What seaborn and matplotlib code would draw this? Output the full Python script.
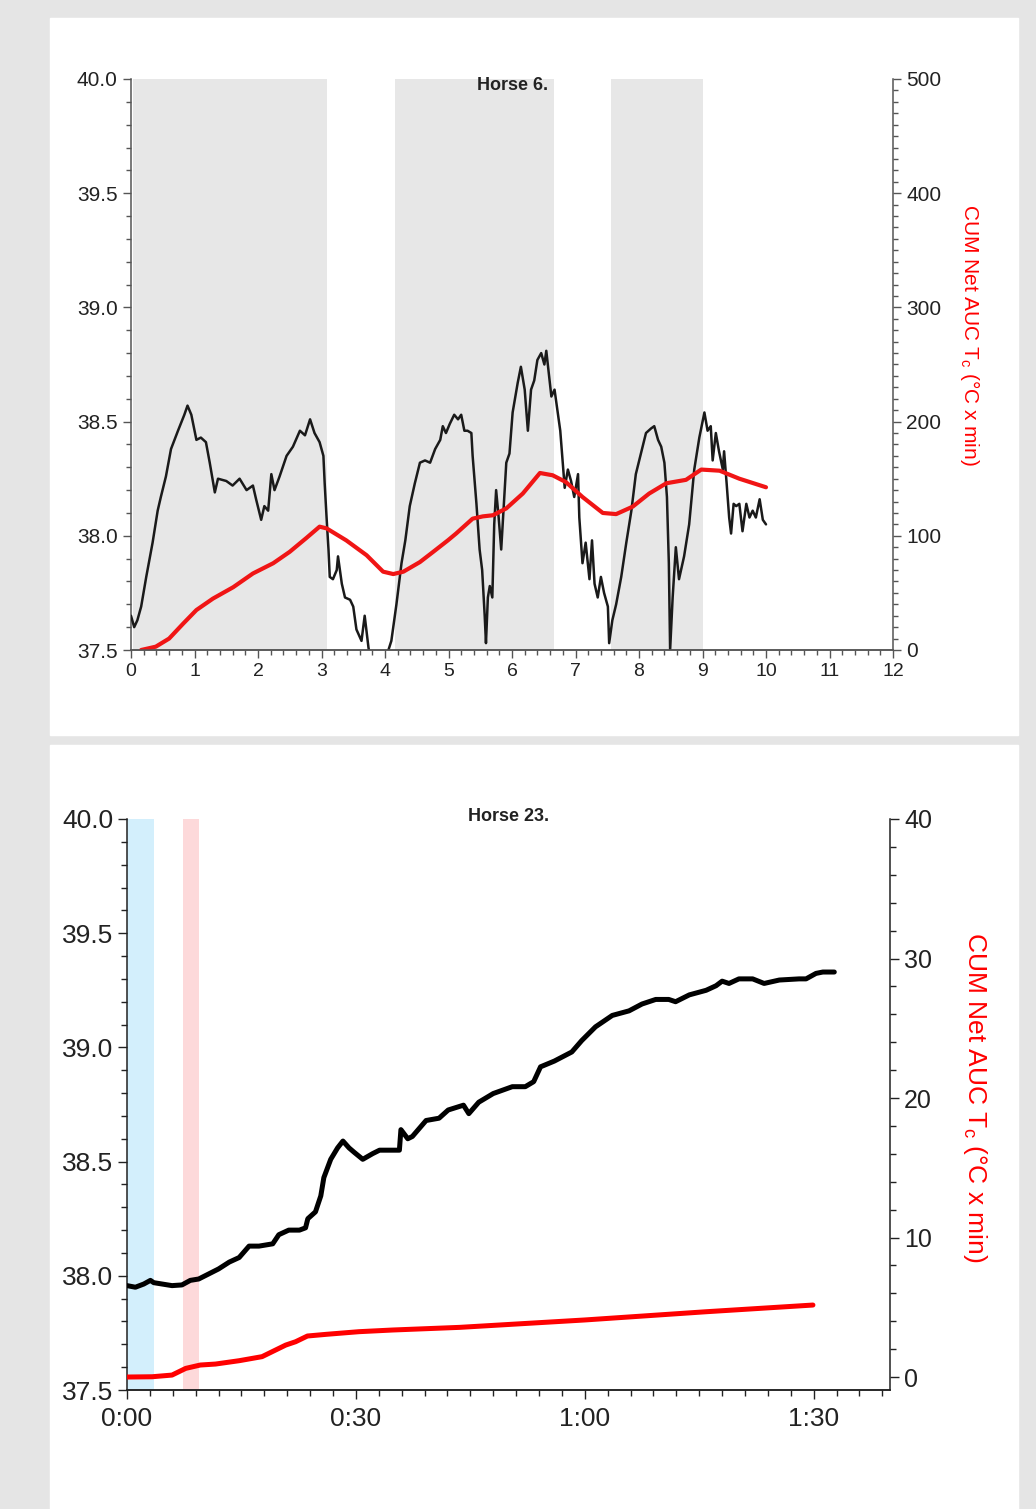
import matplotlib
matplotlib.use("Agg")
import matplotlib.pyplot as plt
import seaborn as sns
from matplotlib.patches import Rectangle
from matplotlib.ticker import MultipleLocator, FuncFormatter

# Horse 6: core temperature (min, degC)
t6 = [0.0, 0.05, 0.1, 0.16, 0.24, 0.34, 0.42, 0.47, 0.55, 0.63, 0.74, 0.84, 0.89, 0.95,
      1.03, 1.1, 1.18, 1.24, 1.32, 1.37, 1.5, 1.6, 1.71, 1.82, 1.92, 1.97, 2.05, 2.1,
      2.16, 2.21, 2.26, 2.34, 2.45, 2.55, 2.66, 2.74, 2.82, 2.89, 2.97, 3.03, 3.05, 3.08,
      3.11, 3.13, 3.18, 3.24, 3.26, 3.32, 3.37, 3.45, 3.5, 3.55, 3.63, 3.68, 3.74, 3.76,
      3.85, 3.95, 4.02, 4.1, 4.18, 4.26, 4.32, 4.39, 4.47, 4.55, 4.63, 4.71, 4.79, 4.87,
      4.91, 4.96, 5.02, 5.09, 5.15, 5.2, 5.25, 5.3, 5.36, 5.38, 5.44, 5.49, 5.53, 5.57,
      5.59, 5.62, 5.65, 5.69, 5.72, 5.75, 5.79, 5.83, 5.86, 5.91, 5.96, 6.01, 6.09, 6.14,
      6.2, 6.25, 6.3, 6.35, 6.4, 6.46, 6.51, 6.54, 6.58, 6.62, 6.67, 6.72, 6.76, 6.8,
      6.83, 6.88, 6.93, 6.98, 7.04, 7.06, 7.11, 7.16, 7.22, 7.26, 7.3, 7.35, 7.4, 7.45,
      7.51, 7.53, 7.58, 7.64, 7.72, 7.8, 7.88, 7.95, 8.03, 8.11, 8.19, 8.24, 8.3, 8.35,
      8.4, 8.44, 8.47, 8.49, 8.53, 8.58, 8.63, 8.71, 8.79, 8.87, 8.95, 9.03, 9.08, 9.13,
      9.16, 9.21, 9.26, 9.32, 9.34, 9.38, 9.42, 9.45, 9.49, 9.53, 9.58, 9.63, 9.69, 9.74,
      9.79, 9.84, 9.9, 9.95, 10.0]
temp6 = [37.65, 37.60, 37.63, 37.69, 37.82, 37.97, 38.11, 38.17, 38.26, 38.38, 38.46, 38.53, 38.57, 38.53,
         38.42, 38.43, 38.41, 38.32, 38.19, 38.25, 38.24, 38.22, 38.25, 38.20, 38.22, 38.16, 38.07, 38.13,
         38.11, 38.27, 38.20, 38.26, 38.35, 38.39, 38.46, 38.44, 38.51, 38.45, 38.41, 38.35, 38.23, 38.08,
         37.94, 37.82, 37.81, 37.85, 37.91, 37.79, 37.73, 37.72, 37.69, 37.59, 37.54, 37.65, 37.51, 37.48,
         37.46, 37.49, 37.47, 37.54, 37.70, 37.88, 37.98, 38.13, 38.23, 38.32, 38.33, 38.32, 38.38, 38.42,
         38.48, 38.45, 38.49, 38.53, 38.51, 38.53, 38.46, 38.46, 38.45, 38.35, 38.14, 37.94, 37.85, 37.65,
         37.53, 37.73, 37.78, 37.73, 38.05, 38.20, 38.08, 37.94, 38.08, 38.32, 38.36, 38.54, 38.67, 38.74,
         38.64, 38.46, 38.64, 38.68, 38.77, 38.80, 38.75, 38.81, 38.71, 38.61, 38.64, 38.54, 38.46, 38.32,
         38.21, 38.29, 38.24, 38.17, 38.27, 38.08, 37.88, 37.97, 37.81, 37.98, 37.79, 37.73, 37.82, 37.75,
         37.69, 37.53, 37.63, 37.70, 37.82, 37.97, 38.11, 38.27, 38.36, 38.45, 38.47, 38.48, 38.42, 38.39,
         38.32, 38.17, 37.88, 37.50, 37.73, 37.95, 37.81, 37.91, 38.05, 38.29, 38.43, 38.54, 38.46, 38.48,
         38.33, 38.45, 38.37, 38.29, 38.37, 38.23, 38.08, 38.01, 38.14, 38.13, 38.14, 38.02, 38.14, 38.08,
         38.11, 38.08, 38.16, 38.07, 38.05]

# Horse 6: cumulative net AUC
tAuc6 = [0.16, 0.39, 0.6, 0.82, 1.03, 1.29, 1.61, 1.92, 2.24, 2.5, 2.76, 2.97, 3.08, 3.39,
         3.71, 3.97, 4.13, 4.29, 4.55, 4.76, 4.99, 5.12, 5.38, 5.54, 5.7, 5.91, 6.17, 6.44,
         6.64, 6.85, 7.11, 7.43, 7.64, 7.9, 8.16, 8.43, 8.74, 8.98, 9.27, 9.58, 10.0]
auc6 = [0, 2.9, 10, 23, 35, 45, 55, 67, 76, 86, 98, 108, 106.5, 96,
        83, 68.6, 66.5, 68.6, 77, 86, 96, 102, 115, 117, 118, 124, 137, 155,
        153, 147, 134, 120, 119, 125.5, 137, 146, 149, 158, 157, 150, 142.5]

# Horse 6: shaded phases (start, end in min)
phaseStart6 = [0.03, 4.16, 7.56]
phaseEnd6 = [3.08, 6.66, 9.0]

# Horse 23: core temperature (min, degC)
t23 = [0, 1.1, 2.2, 3.07, 3.5, 4.6, 5.9, 7.2, 8.3, 9.4, 10.7, 12.0, 13.4, 14.7, 16.0,
       17.3, 19.1, 19.9, 21.2, 22.6, 23.4, 23.7, 24.7, 25.4, 25.8, 26.7, 27.6, 28.3, 29.1,
       29.8, 30.9, 32.2, 33.1, 35.7, 35.9, 36.8, 37.4, 38.3, 39.2, 40.9, 42.1, 44.1, 44.8,
       46.1, 48.0, 50.5, 52.2, 53.3, 54.2, 56.0, 58.3, 59.6, 61.4, 63.6, 65.8, 67.5, 69.3,
       71.0, 71.9, 73.7, 75.9, 77.2, 78.0, 78.9, 80.2, 82.0, 83.5, 85.5, 88.1, 89.0, 90.3,
       91.2, 92.7]
temp23 = [37.957, 37.95, 37.964, 37.98, 37.97, 37.964, 37.957, 37.96, 37.98, 37.986, 38.008, 38.03,
          38.06, 38.08, 38.13, 38.13, 38.14, 38.18, 38.20, 38.20, 38.21, 38.25, 38.28, 38.35,
          38.43, 38.51, 38.56, 38.59, 38.56, 38.54, 38.51, 38.535, 38.55, 38.55, 38.64, 38.60,
          38.61, 38.645, 38.68, 38.69, 38.726, 38.747, 38.71, 38.76, 38.798, 38.828, 38.828, 38.85,
          38.915, 38.94, 38.98, 39.03, 39.09, 39.14, 39.16, 39.19, 39.21, 39.21, 39.20, 39.23,
          39.25, 39.27, 39.29, 39.28, 39.30, 39.30, 39.28, 39.295, 39.30, 39.30, 39.324, 39.33, 39.33]

# Horse 23: cumulative net AUC
tAuc23 = [0, 3.3, 5.9, 7.7, 9.6, 11.6, 14.7, 17.7, 20.8, 22.1, 23.65, 26.1, 30.4, 34.8,
          43.6, 60, 75.9, 89.9]
auc23 = [0, 0.02, 0.14, 0.62, 0.86, 0.93, 1.17, 1.46, 2.29, 2.53, 2.94, 3.06, 3.25, 3.37,
         3.56, 4.09, 4.68, 5.16]

# Horse 23: shaded phases
phaseStart23 = [0.0, 7.3]
phaseEnd23 = [3.5, 9.4]
phaseColors23 = ["#d3effc", "#fdd9da"]

aucLabel = "CUM Net AUC T$\\mathregular{_c}$ (°C x min)"

sns.set_style("ticks")
plt.rcParams["font.family"] = ["Liberation Sans", "DejaVu Sans"]

W, H = 1036, 1509
fig = plt.figure(figsize=(W / 100, H / 100), dpi=100, facecolor="#e5e5e5")
fig.patches.append(Rectangle((50 / W, 1 - 735 / H), 968 / W, 717 / H,
                             transform=fig.transFigure, color="white", zorder=-10))
fig.patches.append(Rectangle((50 / W, 0), 968 / W, 1 - 745 / H,
                             transform=fig.transFigure, color="white", zorder=-10))


def styleAxis(ax, col, tickSize, major=6, minor=3.6):
    ax.tick_params(which="major", length=major, width=1, color=col, labelsize=tickSize,
                   labelcolor="#222222", direction="out")
    ax.tick_params(which="minor", length=minor, width=1, color=col, direction="out")
    for s in ax.spines.values():
        s.set_color(col)
        s.set_linewidth(1.1)
    ax.spines["top"].set_visible(False)


# ---- Top panel: Horse 6 ----
axTop = fig.add_axes([131 / W, 1 - 650 / H, 762 / W, 571 / H])
axTop.set_facecolor("white")
for s0, s1 in zip(phaseStart6, phaseEnd6):
    axTop.axvspan(s0, s1, color="#e7e7e7", lw=0, zorder=0)
sns.lineplot(x=t6, y=temp6, ax=axTop, color="#1a1a1a", linewidth=1.8,
             estimator=None, sort=False, zorder=3)
axTop.set_xlim(0, 12)
axTop.set_ylim(37.5, 40.0)
axTop.xaxis.set_major_locator(MultipleLocator(1))
axTop.xaxis.set_minor_locator(MultipleLocator(0.2))
axTop.yaxis.set_major_locator(MultipleLocator(0.5))
axTop.yaxis.set_minor_locator(MultipleLocator(0.1))
axTop.yaxis.set_major_formatter(FuncFormatter(lambda v, p: f"{v:.1f}"))
axTop.set_xlabel("")
axTop.set_ylabel("")
styleAxis(axTop, "#555555", 14)
axTop.tick_params(axis="y", labelsize=15)
axTop.spines["right"].set_visible(False)
axTop.text(0.501, 0.989, "Horse 6.", transform=axTop.transAxes, ha="center", va="center",
           fontsize=13, fontweight="bold", color="#222222")

axTop2 = axTop.twinx()
sns.lineplot(x=tAuc6, y=auc6, ax=axTop2, color="#f01515", linewidth=3.0,
             estimator=None, sort=False)
axTop2.set_ylim(0, 500)
axTop2.yaxis.set_major_locator(MultipleLocator(100))
axTop2.yaxis.set_minor_locator(MultipleLocator(10))
styleAxis(axTop2, "#555555", 15)
axTop2.spines["left"].set_visible(False)
axTop2.set_ylabel(aucLabel, color="red", fontsize=15, rotation=270,
                  va="center", ha="center", rotation_mode="default")
axTop2.yaxis.set_label_coords(1.101, 0.552)

# ---- Bottom panel: Horse 23 ----
axBot = fig.add_axes([127 / W, 1 - 1390 / H, 763 / W, 571 / H])
axBot.set_facecolor("white")
for s0, s1, c in zip(phaseStart23, phaseEnd23, phaseColors23):
    axBot.axvspan(s0, s1, color=c, lw=0, zorder=0)
sns.lineplot(x=t23, y=temp23, ax=axBot, color="black", linewidth=3.6,
             estimator=None, sort=False, zorder=3)
axBot.set_xlim(0, 100)
axBot.set_ylim(37.5, 40.0)
axBot.xaxis.set_major_locator(MultipleLocator(30))
axBot.xaxis.set_minor_locator(MultipleLocator(3))
axBot.xaxis.set_major_formatter(FuncFormatter(lambda v, p: f"{int(v // 60)}:{int(v % 60):02d}"))
axBot.yaxis.set_major_locator(MultipleLocator(0.5))
axBot.yaxis.set_minor_locator(MultipleLocator(0.1))
axBot.yaxis.set_major_formatter(FuncFormatter(lambda v, p: f"{v:.1f}"))
axBot.set_xlabel("")
axBot.set_ylabel("")
styleAxis(axBot, "#222222", 19, major=6.5, minor=4)
axBot.tick_params(axis="x", pad=6)
axBot.spines["right"].set_visible(False)
axBot.text(0.5007, 1.005, "Horse 23.", transform=axBot.transAxes, ha="center", va="center",
           fontsize=13, fontweight="bold", color="#222222")

axBot2 = axBot.twinx()
sns.lineplot(x=tAuc23, y=auc23, ax=axBot2, color="#ff0000", linewidth=3.6,
             estimator=None, sort=False)
axBot2.set_ylim(-0.93, 40)
axBot2.yaxis.set_major_locator(MultipleLocator(10))
axBot2.yaxis.set_minor_locator(MultipleLocator(2))
styleAxis(axBot2, "#222222", 18, major=6.5, minor=4)
axBot2.spines["left"].set_visible(False)
axBot2.set_ylabel(aucLabel, color="red", fontsize=19, rotation=270,
                  va="center", ha="center", rotation_mode="default")
axBot2.yaxis.set_label_coords(1.111, 0.513)

fig.savefig("out.png", dpi=100, facecolor=fig.get_facecolor())
